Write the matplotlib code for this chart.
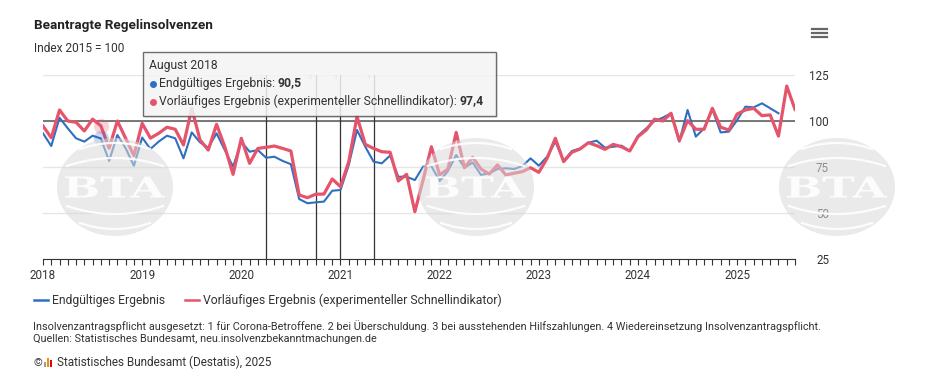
import numpy as np
import matplotlib
matplotlib.use("Agg")
import matplotlib.pyplot as plt
from matplotlib.patches import Ellipse, PathPatch, Rectangle
from matplotlib.lines import Line2D
from matplotlib.textpath import TextPath
from matplotlib.font_manager import FontProperties
from matplotlib import transforms

plt.rcParams["font.family"] = ["Roboto", "DejaVu Sans"]

# Data (monthly index, 2015 = 100), Jan 2018 onwards
final = [93.3, 86.4, 101.8, 96, 90.6, 88.8, 92, 90.5, 78.3, 92.4, 85.2, 75.7,
         91, 84.8, 88.8, 92, 90.6, 79.7, 93.8, 88.4, 85.5, 93.3, 84.2, 75.2,
         88.8, 83.3, 84.2, 80, 80.6, 78.3, 76.5, 57.6, 55.3, 55.8, 56.2, 62.1,
         62.5, 76.1, 95.1, 86, 77.9, 77, 81.2, 69.7, 69.7, 67.9, 75.2, 75.5,
         67.4, 72.8, 81.5, 74.6, 77.4, 70.7, 71.6, 73.9, 74.3, 73.9, 75.5, 79.7,
         75.7, 80.6, 88.8, 78.3, 83.7, 85.1, 88.2, 89.3, 85.5, 86, 86.6, 83.7,
         92, 96, 100, 101.8, 104.2, 88.8, 106, 91.5, 96, 106.3, 93.8, 94.2,
         100.5, 107.8, 107.4, 109.6, 106.9, 104.2]
preliminary = [97.3, 90.9, 106, 100, 99.3, 94.6, 101, 97.4, 85.2, 100, 90.6, 81.2,
               98.7, 90.7, 93.3, 96.6, 95.5, 87, 106.9, 89.7, 84.2, 98.2, 86, 71,
               90.6, 77, 85.1, 85.7, 86.4, 85.1, 83.7, 59.8, 58.3, 60.2, 60.3, 68.5,
               64.3, 77.9, 102.4, 87.3, 85.1, 83.3, 83, 67.4, 71, 50.7, 68, 86,
               70.7, 73.9, 93.8, 74.6, 80.3, 73.9, 71.2, 76.1, 70.7, 71.6, 72.5, 74.6,
               72.1, 79.7, 90.6, 77.9, 83, 84.8, 88.2, 86.6, 84.6, 87.3, 86, 83.7,
               91.5, 95.1, 101, 100, 104.2, 89.3, 100.2, 95.5, 95.5, 106.9, 96.6, 95.1,
               103.8, 106, 106.9, 102.9, 103.3, 91.8, 119, 106.3]
years = ["2018", "2019", "2020", "2021", "2022", "2023", "2024", "2025"]
event_months = [27, 33, 36, 40]
event_labels = ["1", "2", "3", "4"]
y_ticks = [25, 50, 75, 100, 125]
hover_month = 7  # August 2018

BLUE = "#2f6fc2"
RED = "#e6546b"
TXT = "#333333"

W, H = 949, 374
fig = plt.figure(figsize=(W / 100, H / 100), dpi=100)


def fx(px):
    return px / W


def fy(py):
    return 1 - py / H


ax = fig.add_axes([fx(43), fy(259), fx(795) - fx(43), fy(75) - fy(259)])

ax.plot(np.arange(len(final)), final, color=BLUE, lw=1.5, zorder=3)
ax.plot(np.arange(len(preliminary)), preliminary, color=RED, lw=2.3, zorder=4)
ax.scatter([hover_month], [preliminary[hover_month]], s=120, color=RED, alpha=0.25, lw=0, zorder=5)
ax.scatter([hover_month], [final[hover_month]], s=120, color=BLUE, alpha=0.25, lw=0, zorder=5)

ax.axhline(100, color="#6e6e6e", lw=1.3, zorder=2)
for m, lab in zip(event_months, event_labels):
    ax.axvline(m, color="#333333", lw=0.9, zorder=2)
    ax.annotate(lab, xy=(m, 125), xytext=(-2.5, 0), textcoords="offset points",
                ha="right", va="top", fontsize=4.2, color="#777777")

ax.set_xlim(0, 91)
ax.set_ylim(25, 125)
ax.set_yticks(y_ticks)
ax.yaxis.grid(True, color="#e6e6e6", lw=1)
ax.set_axisbelow(True)
ax.yaxis.tick_right()
ax.tick_params(axis="y", length=0, pad=24.5, labelsize=8.4, labelcolor=TXT)
for lab in ax.get_yticklabels():
    lab.set_horizontalalignment("right")

ax.set_xticks(range(0, 92, 12))
ax.set_xticklabels(years)
ax.set_xticks(range(0, 92), minor=True)
ax.tick_params(axis="x", which="both", length=4, width=0.8, color="#333333",
               pad=3.5, labelsize=8.4, labelcolor=TXT)
for s in ["top", "left", "right"]:
    ax.spines[s].set_visible(False)
ax.spines["bottom"].set_color("#333333")

# titles
fig.text(fx(34), fy(29), "Beantragte Regelinsolvenzen", fontsize=9.7,
         weight="bold", color="#222222", va="baseline")
fig.text(fx(34), fy(52.5), "Index 2015 = 100", fontsize=8.6, color=TXT, va="baseline")

# hamburger menu
for yy in [28.5, 32.5, 36.5]:
    fig.add_artist(Line2D([fx(812), fx(827)], [fy(yy), fy(yy)], color="#666666",
                          lw=1.6, transform=fig.transFigure))

# BTA watermarks
bta_font = FontProperties(family="DejaVu Serif", weight="bold")
for cx in [115, 476, 837]:
    cy = 187
    fig.add_artist(Ellipse((fx(cx), fy(cy)), 116 / W, 98 / H, transform=fig.transFigure,
                           facecolor="#d9d9d9", edgecolor="none", alpha=0.55, zorder=6))
    for half, mid, bend, sign in [(35, -44, 6, 1), (48, -29, 8, 1), (48, 27, 8, -1), (35, 42, 6, -1)]:
        xs = np.linspace(cx - half, cx + half, 40)
        ys = cy + mid + sign * bend * ((xs - cx) / half) ** 2
        fig.add_artist(Line2D(fx(xs), fy(ys), color="white", lw=1.6, alpha=0.9,
                              transform=fig.transFigure, zorder=7))
    tp = TextPath((0, 0), "BTA", size=1, prop=bta_font)
    ext = tp.get_extents()
    tr = (transforms.Affine2D().translate(-ext.x0, -ext.y0)
          .scale(100 / ext.width, 21 / ext.height)
          .translate(cx - 50, (H - cy) - 10.5)
          .scale(1 / W, 1 / H) + fig.transFigure)
    fig.add_artist(PathPatch(tp, transform=tr, facecolor="white", edgecolor="none",
                             alpha=0.9, zorder=7))

# tooltip
fig.add_artist(Rectangle((fx(145), fy(118)), (353) / W, 64 / H, transform=fig.transFigure,
                         facecolor="#000000", alpha=0.08, edgecolor="none", zorder=9))
fig.add_artist(Rectangle((fx(143), fy(116)), (353) / W, 64 / H, transform=fig.transFigure,
                         facecolor="#f7f7f7", alpha=0.85, edgecolor="#555555", lw=1, zorder=10))
renderer = fig.canvas.get_renderer()


def rich(x, y, parts, size=8.7):
    pos = fx(x)
    for txt, weight in parts:
        t = fig.text(pos, fy(y), txt, fontsize=size, weight=weight, color=TXT,
                     va="baseline", zorder=11)
        pos += t.get_window_extent(renderer).width / W


rich(149, 68.5, [("August 2018", "normal")])
fig.add_artist(Line2D([fx(153)], [fy(83.5)], marker="o", ms=4, color=BLUE, lw=0,
                      transform=fig.transFigure, zorder=11))
rich(159, 86.5, [("Endgültiges Ergebnis: ", "normal"), ("90,5", "bold")])
fig.add_artist(Line2D([fx(153)], [fy(101.5)], marker="o", ms=4, color=RED, lw=0,
                      transform=fig.transFigure, zorder=11))
rich(159, 104.5, [("Vorläufiges Ergebnis (experimenteller Schnellindikator): ", "normal"),
                  ("97,4", "bold")])

# legend
fig.add_artist(Line2D([fx(34), fx(48)], [fy(300), fy(300)], color=BLUE, lw=1.8,
                      transform=fig.transFigure))
fig.text(fx(52), fy(304), "Endgültiges Ergebnis", fontsize=8.7, color=TXT, va="baseline")
fig.add_artist(Line2D([fx(185), fx(199)], [fy(300), fy(300)], color=RED, lw=1.8,
                      transform=fig.transFigure))
fig.text(fx(203), fy(304), "Vorläufiges Ergebnis (experimenteller Schnellindikator)",
         fontsize=8.8, color=TXT, va="baseline")

# notes
fig.text(fx(33), fy(329.5),
         "Insolvenzantragspflicht ausgesetzt: 1 für Corona-Betroffene. 2 bei Überschuldung. "
         "3 bei ausstehenden Hilfszahlungen. 4 Wiedereinsetzung Insolvenzantragspflicht.",
         fontsize=7.8, color=TXT, va="baseline")
fig.text(fx(33), fy(342.5), "Quellen: Statistisches Bundesamt, neu.insolvenzbekanntmachungen.de",
         fontsize=7.8, color=TXT, va="baseline")

fig.text(fx(33), fy(366), "©", fontsize=8, color=TXT, va="baseline")
for x0, h, c in [(44, 5, "#9a9a9a"), (47, 9, "#f39200"), (50, 7, "#e2001a")]:
    fig.add_artist(Rectangle((fx(x0), fy(367)), 2.2 / W, h / H, transform=fig.transFigure,
                             facecolor=c, edgecolor="none"))
fig.text(fx(57), fy(366), "Statistisches Bundesamt (Destatis), 2025", fontsize=8.5,
         color=TXT, va="baseline")

fig.savefig("out.png", dpi=100)
